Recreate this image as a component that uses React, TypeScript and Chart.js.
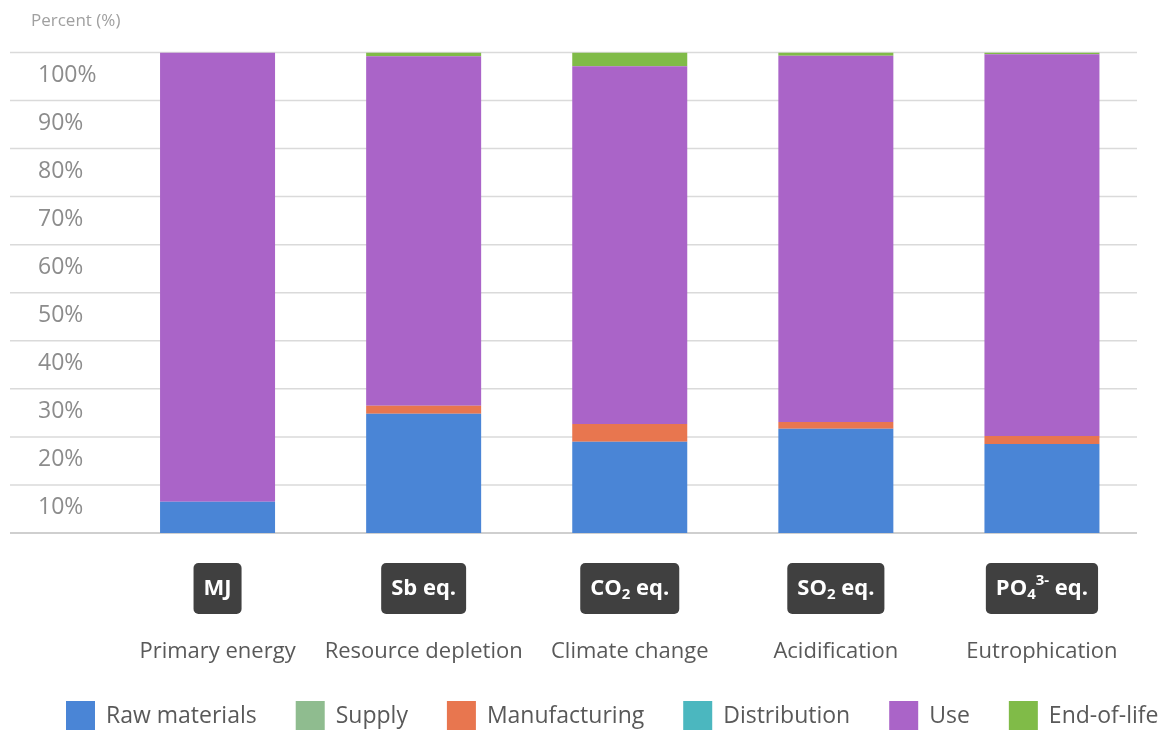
import React, { useEffect, useRef } from 'react';
import { Chart, registerables } from 'chart.js';

Chart.register(...registerables);

// ---------------- data ----------------
const chartTitle = 'Percent (%)';
const categories = ['Primary energy', 'Resource depletion', 'Climate change', 'Acidification', 'Eutrophication'];
const unitLabels = ['MJ', 'Sb eq.', 'CO₂ eq.', 'SO₂ eq.', 'PO₄³⁻ eq.'];
const seriesNames = ['Raw materials', 'Supply', 'Manufacturing', 'Distribution', 'Use', 'End-of-life'];
const rawMaterials = [6.5, 24.8, 19.0, 21.7, 18.5];
const supply = [0, 0, 0, 0, 0];
const manufacturing = [0, 1.7, 3.7, 1.4, 1.7];
const distribution = [0, 0, 0, 0, 0];
const use = [93.5, 72.7, 74.4, 76.2, 79.4];
const endOfLife = [0, 0.8, 2.9, 0.7, 0.4];
const yTickLabels = ['', '10%', '20%', '30%', '40%', '50%', '60%', '70%', '80%', '90%', '100%'];

const seriesColors = ['#4a85d6', '#8fbc8f', '#e8764f', '#4bb7bf', '#aa64c8', '#80bb48'];
const seriesValues = [rawMaterials, supply, manufacturing, distribution, use, endOfLife];

const FONT = "'Open Sans', 'DejaVu Sans', sans-serif";

type Seg = { t: string; mode: 'n' | 'sub' | 'sup'; w?: number };

const SUB: Record<string, string> = { '₀': '0', '₁': '1', '₂': '2', '₃': '3', '₄': '4', '₅': '5', '₆': '6', '₇': '7', '₈': '8', '₉': '9' };
const SUP: Record<string, string> = { '⁰': '0', '¹': '1', '²': '2', '³': '3', '⁴': '4', '⁵': '5', '⁶': '6', '⁷': '7', '⁸': '8', '⁹': '9', '⁻': '-', '⁺': '+' };

function parseRich(s: string): Seg[] {
  const out: Seg[] = [];
  for (const ch of Array.from(s)) {
    let mode: Seg['mode'] = 'n';
    let c = ch;
    if (SUB[ch] !== undefined) { mode = 'sub'; c = SUB[ch]; }
    else if (SUP[ch] !== undefined) { mode = 'sup'; c = SUP[ch]; }
    const last = out[out.length - 1];
    if (last && last.mode === mode) last.t += c;
    else out.push({ t: c, mode });
  }
  return out;
}

const fullGridPlugin = {
  id: 'fullGrid',
  beforeDatasetsDraw(chart: any) {
    const y = chart.scales.y;
    const ctx = chart.ctx;
    ctx.save();
    y.ticks.forEach((t: any) => {
      const py = y.getPixelForValue(t.value);
      ctx.beginPath();
      ctx.strokeStyle = t.value === 0 ? '#cfcfcf' : '#dadada';
      ctx.lineWidth = t.value === 0 ? 2 : 1.5;
      ctx.moveTo(10, py);
      ctx.lineTo(1137, py);
      ctx.stroke();
    });
    ctx.restore();
  },
};

const shiftYLabelsPlugin = {
  id: 'shiftYLabels',
  afterLayout(chart: any) {
    chart.scales.y.left = 38;
  },
};

const badgePlugin = {
  id: 'unitBadges',
  afterDraw(chart: any) {
    const xs = chart.scales.x;
    const ctx = chart.ctx;
    const top = chart.chartArea.bottom + 30;
    const h = 51;
    ctx.save();
    unitLabels.forEach((lab, i) => {
      const cx = xs.getPixelForValue(i);
      const segs = parseRich(lab);
      let w = 0;
      segs.forEach((s) => {
        ctx.font = `bold ${s.mode === 'n' ? 22 : 15}px ${FONT}`;
        s.w = ctx.measureText(s.t).width;
        w += s.w;
      });
      const bw = w + 20;
      ctx.fillStyle = '#404040';
      ctx.beginPath();
      (ctx as any).roundRect(cx - bw / 2, top, bw, h, 5);
      ctx.fill();
      let tx = cx - w / 2;
      const ty = top + h / 2;
      segs.forEach((s) => {
        ctx.font = `bold ${s.mode === 'n' ? 22 : 15}px ${FONT}`;
        ctx.fillStyle = '#ffffff';
        ctx.textBaseline = 'middle';
        ctx.textAlign = 'left';
        const dy = s.mode === 'sub' ? 6 : s.mode === 'sup' ? -8 : 0;
        ctx.fillText(s.t, tx, ty + dy);
        tx += s.w || 0;
      });
    });
    ctx.restore();
  },
};

const legendPlugin = {
  id: 'customLegend',
  afterDraw(chart: any) {
    const ctx = chart.ctx;
    const boxTop = chart.height - 32;
    let lx = 66;
    ctx.save();
    ctx.font = `23px ${FONT}`;
    ctx.textBaseline = 'middle';
    ctx.textAlign = 'left';
    chart.data.datasets.forEach((ds: any) => {
      ctx.fillStyle = ds.backgroundColor;
      ctx.fillRect(lx, boxTop, 29, 29);
      ctx.fillStyle = '#595959';
      ctx.fillText(ds.label, lx + 40, boxTop + 15);
      lx += 40 + ctx.measureText(ds.label).width + 39;
    });
    ctx.restore();
  },
};

export default function App() {
  const ref = useRef<HTMLCanvasElement | null>(null);

  useEffect(() => {
    document.body.style.margin = '0';
    document.body.style.overflow = 'hidden';
    if (!ref.current) return;
    const chart = new Chart(ref.current, {
      type: 'bar',
      data: {
        labels: categories,
        datasets: seriesNames.map((name, i) => ({
          label: name,
          data: seriesValues[i],
          backgroundColor: seriesColors[i],
          borderWidth: 0,
          categoryPercentage: 1,
          barPercentage: 0.558,
        })),
      },
      options: {
        responsive: false,
        animation: false,
        layout: { padding: { left: 31, right: 28, top: 0, bottom: 50 } },
        plugins: {
          legend: { display: false },
          tooltip: { enabled: false },
          title: {
            display: true,
            text: chartTitle,
            align: 'start',
            color: '#a0a0a0',
            font: { family: FONT, size: 17, weight: 'normal' },
            padding: { top: 11, bottom: 21 },
          },
        },
        scales: {
          x: {
            stacked: true,
            grid: { display: false, drawTicks: false },
            border: { display: false },
            ticks: {
              color: '#595959',
              font: { family: FONT, size: 22 },
              padding: 106,
              maxRotation: 0,
              autoSkip: false,
            },
            afterFit: (s: any) => { s.height = 150; s.paddingLeft = 0; s.paddingRight = 0; },
          },
          y: {
            stacked: true,
            min: 0,
            max: 100,
            grid: { display: false, drawTicks: false },
            border: { display: false },
            ticks: {
              stepSize: 10,
              color: '#8c8c8c',
              font: { family: FONT, size: 23 },
              crossAlign: 'far',
              labelOffset: 23,
              callback: (_v: any, idx: number) => yTickLabels[idx],
            },
            afterFit: (s: any) => { s.width = 83.5; s.paddingTop = 0; s.paddingBottom = 0; },
          },
        },
      },
      plugins: [fullGridPlugin, shiftYLabelsPlugin, badgePlugin, legendPlugin],
    } as any);
    return () => chart.destroy();
  }, []);

  return (
    <div style={{ width: 1173, height: 733 }}>
      <canvas ref={ref} width={1173} height={733} style={{ display: 'block' }} />
    </div>
  );
}
